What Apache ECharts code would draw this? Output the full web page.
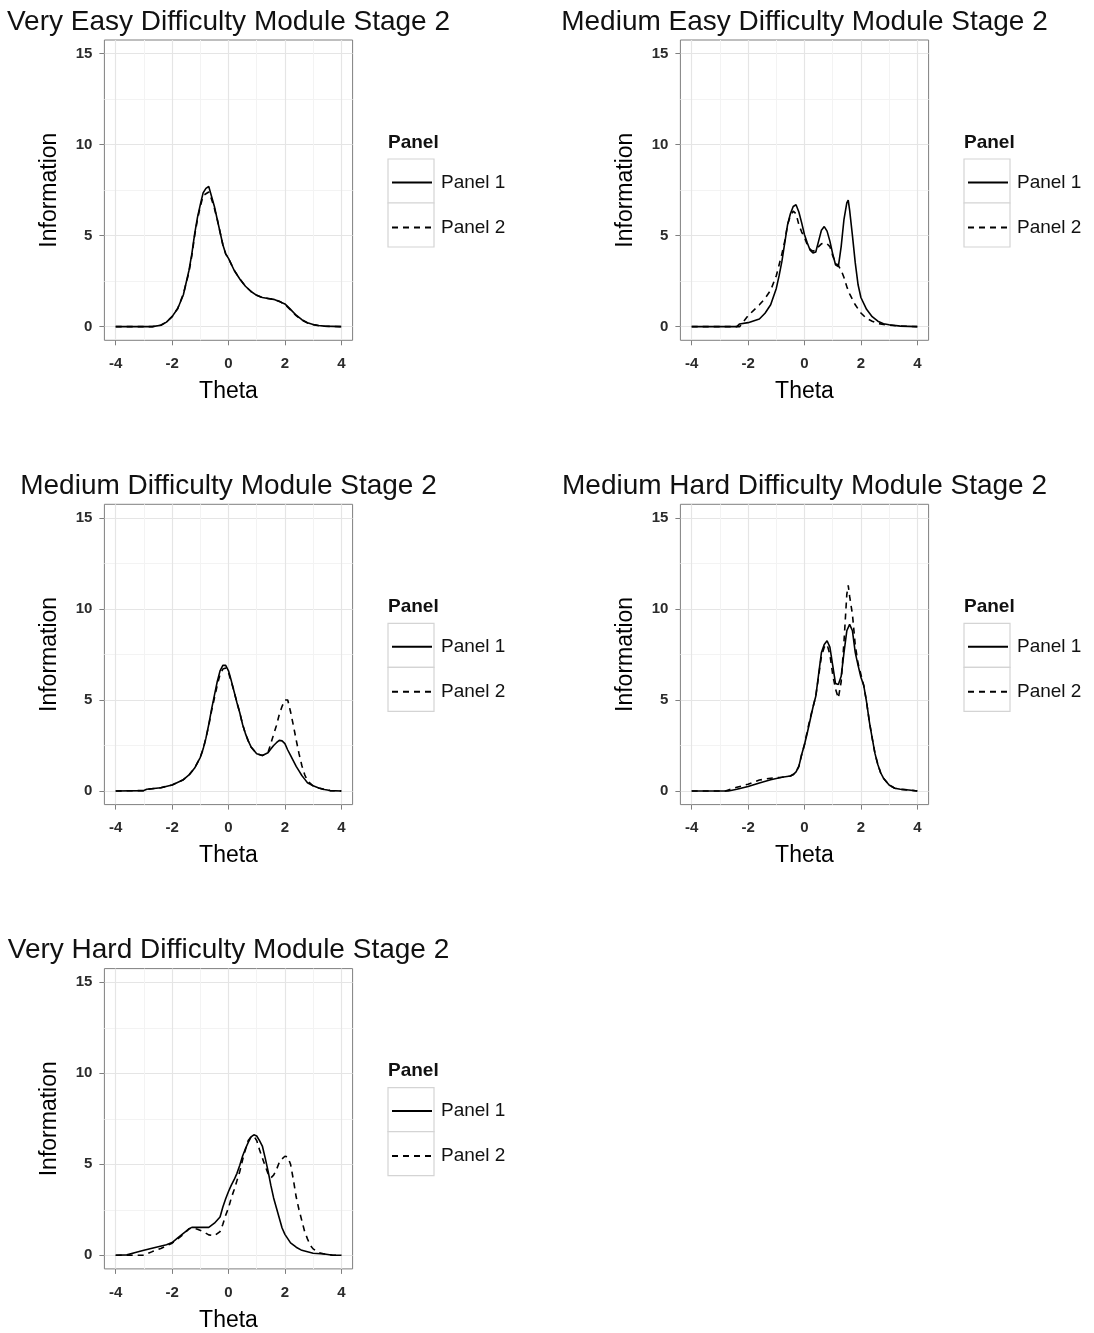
<!DOCTYPE html>
<html>
<head>
<meta charset="utf-8">
<script src="https://cdn.jsdelivr.net/npm/echarts@6/dist/echarts.min.js"></script>
<style>
    html, body { margin: 0; padding: 0; background: #fff; }
    #main { width: 1094px; height: 1333px; }
</style>
</head>
<body>
<div id="main"></div>
<script>
// titles of the five panels
const panelTitles = [
    'Very Easy Difficulty Module Stage 2',
    'Medium Easy Difficulty Module Stage 2',
    'Medium Difficulty Module Stage 2',
    'Medium Hard Difficulty Module Stage 2',
    'Very Hard Difficulty Module Stage 2'
];
const seriesNames = ['Panel 1', 'Panel 2'];

// tick labels
const xTicks = [-4, -2, 0, 2, 4];
const xMinorTicks = [-3, -1, 1, 3];
const yTicks = [0, 5, 10, 15];
const yMinorTicks = [2.5, 7.5, 12.5];

// Very Easy
const veryEasyTheta = [-4, -2.7, -2.4, -2.2, -2.0, -1.8, -1.6, -1.4, -1.3, -1.2, -1.1, -1.0, -0.9, -0.8, -0.7, -0.6, -0.5, -0.4, -0.3, -0.2, -0.1, 0, 0.2, 0.4, 0.6, 0.8, 1.0, 1.2, 1.4, 1.6, 1.8, 2.0, 2.2, 2.4, 2.6, 2.8, 3.0, 3.2, 3.4, 4];
const veryEasyPanel1 = [0, 0, 0.08, 0.25, 0.55, 1.0, 1.75, 3.1, 4.0, 5.1, 6.0, 6.7, 7.35, 7.6, 7.7, 7.15, 6.6, 5.9, 5.2, 4.5, 4.0, 3.75, 3.1, 2.62, 2.22, 1.93, 1.72, 1.6, 1.55, 1.5, 1.38, 1.25, 0.95, 0.63, 0.38, 0.22, 0.12, 0.06, 0.03, 0];
const veryEasyPanel2 = [0, 0, 0.08, 0.25, 0.55, 1.0, 1.8, 3.0, 3.9, 5.0, 5.9, 6.6, 7.2, 7.3, 7.4, 7.0, 6.5, 5.9, 5.2, 4.5, 4.0, 3.75, 3.1, 2.62, 2.22, 1.93, 1.72, 1.6, 1.55, 1.5, 1.4, 1.22, 0.92, 0.6, 0.36, 0.2, 0.11, 0.05, 0.02, 0];

// Medium Easy
const mediumEasyTheta1 = [-4, -2.4, -2.3, -2.0, -1.6, -1.4, -1.2, -1.0, -0.9, -0.8, -0.7, -0.6, -0.5, -0.4, -0.3, -0.2, -0.1, 0, 0.1, 0.2, 0.3, 0.4, 0.5, 0.6, 0.7, 0.8, 0.9, 1.0, 1.1, 1.2, 1.3, 1.4, 1.5, 1.55, 1.6, 1.7, 1.8, 1.9, 2.0, 2.2, 2.4, 2.6, 2.8, 3.0, 3.4, 4];
const mediumEasyPanel1 = [0, 0, 0.15, 0.22, 0.42, 0.74, 1.2, 2.1, 2.8, 3.6, 4.6, 5.6, 6.2, 6.6, 6.7, 6.3, 5.7, 5.05, 4.6, 4.2, 4.05, 4.1, 4.7, 5.3, 5.5, 5.25, 4.7, 4.0, 3.4, 3.3, 4.4, 5.9, 6.8, 6.95, 6.4, 5.0, 3.5, 2.3, 1.6, 0.95, 0.55, 0.3, 0.16, 0.1, 0.03, 0];
const mediumEasyTheta2 = [-4, -2.3, -2.2, -2.0, -1.6, -1.4, -1.2, -1.0, -0.9, -0.8, -0.7, -0.6, -0.5, -0.4, -0.3, -0.2, -0.1, 0, 0.1, 0.2, 0.3, 0.4, 0.5, 0.6, 0.7, 0.8, 0.9, 1.0, 1.1, 1.2, 1.3, 1.4, 1.5, 1.6, 1.7, 1.8, 2.0, 2.2, 2.4, 2.6, 2.8, 3.0, 3.4, 4];
const mediumEasyPanel2 = [0, 0, 0.2, 0.6, 1.2, 1.55, 2.0, 2.8, 3.4, 4.0, 4.7, 5.6, 6.1, 6.35, 6.2, 5.6, 5.2, 4.9, 4.5, 4.25, 4.15, 4.2, 4.4, 4.55, 4.6, 4.55, 4.4, 3.9, 3.5, 3.35, 3.1, 2.7, 2.2, 1.8, 1.5, 1.2, 0.75, 0.45, 0.3, 0.18, 0.12, 0.08, 0.03, 0];

// Medium
const mediumTheta = [-4, -3.0, -2.9, -2.4, -2.0, -1.6, -1.4, -1.2, -1.0, -0.9, -0.8, -0.7, -0.6, -0.5, -0.4, -0.3, -0.2, -0.1, 0, 0.1, 0.2, 0.3, 0.4, 0.5, 0.6, 0.7, 0.8, 1.0, 1.2, 1.4, 1.5, 1.6, 1.7, 1.8, 1.9, 2.0, 2.1, 2.2, 2.3, 2.4, 2.5, 2.6, 2.7, 2.8, 3.0, 3.2, 3.4, 3.6, 4];
const mediumPanel1 = [0, 0.02, 0.09, 0.18, 0.33, 0.62, 0.88, 1.26, 1.85, 2.3, 2.9, 3.65, 4.5, 5.25, 6.0, 6.6, 6.9, 6.9, 6.6, 6.05, 5.45, 4.85, 4.3, 3.65, 3.15, 2.75, 2.42, 2.05, 1.95, 2.1, 2.3, 2.5, 2.65, 2.78, 2.75, 2.6, 2.25, 1.95, 1.65, 1.35, 1.1, 0.85, 0.65, 0.45, 0.28, 0.16, 0.08, 0.02, 0];
const mediumPanel2 = [0, 0.02, 0.09, 0.18, 0.33, 0.62, 0.88, 1.26, 1.85, 2.3, 2.9, 3.6, 4.4, 5.1, 5.8, 6.4, 6.7, 6.75, 6.5, 6.0, 5.45, 4.85, 4.3, 3.65, 3.15, 2.75, 2.42, 2.05, 1.95, 2.1, 2.6, 3.1, 3.6, 4.2, 4.65, 5.0, 5.0, 4.35, 3.6, 2.8, 2.05, 1.4, 0.9, 0.55, 0.28, 0.16, 0.08, 0.02, 0];

// Medium Hard
const mediumHardTheta1 = [-4, -2.7, -2.4, -2.0, -1.6, -1.2, -0.8, -0.5, -0.4, -0.3, -0.2, -0.1, 0, 0.1, 0.2, 0.3, 0.4, 0.5, 0.6, 0.7, 0.8, 0.9, 1.0, 1.1, 1.2, 1.3, 1.4, 1.5, 1.6, 1.7, 1.8, 1.9, 2.0, 2.1, 2.2, 2.3, 2.4, 2.5, 2.6, 2.7, 2.8, 3.0, 3.2, 3.4, 3.7, 4];
const mediumHardPanel1 = [0, 0, 0.09, 0.24, 0.44, 0.62, 0.75, 0.82, 0.9, 1.05, 1.35, 2.0, 2.55, 3.2, 3.9, 4.6, 5.2, 6.4, 7.6, 8.05, 8.25, 7.9, 6.9, 5.9, 5.85, 6.3, 7.6, 8.8, 9.15, 8.8, 7.6, 6.9, 6.25, 5.8, 4.9, 3.8, 2.9, 2.05, 1.45, 1.0, 0.7, 0.33, 0.15, 0.09, 0.05, 0];
const mediumHardTheta2 = [-4, -2.8, -2.6, -2.4, -2.0, -1.6, -1.2, -0.8, -0.5, -0.4, -0.3, -0.2, -0.1, 0, 0.1, 0.2, 0.3, 0.4, 0.5, 0.6, 0.7, 0.8, 0.9, 1.0, 1.1, 1.2, 1.3, 1.4, 1.5, 1.55, 1.6, 1.7, 1.8, 1.9, 2.0, 2.1, 2.2, 2.3, 2.4, 2.5, 2.6, 2.7, 2.8, 3.0, 3.2, 3.4, 3.7, 4];
const mediumHardPanel2 = [0, 0, 0.1, 0.2, 0.37, 0.6, 0.7, 0.75, 0.82, 0.9, 1.05, 1.35, 2.0, 2.55, 3.3, 4.0, 4.6, 5.2, 6.3, 7.4, 7.9, 8.05, 7.5, 6.4, 5.6, 5.1, 6.0, 8.2, 10.8, 11.3, 10.7, 9.7, 8.0, 7.0, 6.4, 5.8, 4.9, 3.8, 2.9, 2.05, 1.45, 1.0, 0.7, 0.33, 0.15, 0.09, 0.05, 0];

// Very Hard
const veryHardTheta1 = [-4, -3.6, -3.3, -3.0, -2.6, -2.2, -2.0, -1.8, -1.6, -1.4, -1.3, -1.0, -0.7, -0.5, -0.3, -0.2, -0.1, 0, 0.1, 0.2, 0.3, 0.4, 0.5, 0.6, 0.7, 0.8, 0.9, 1.0, 1.1, 1.2, 1.3, 1.4, 1.5, 1.6, 1.7, 1.8, 1.9, 2.0, 2.2, 2.4, 2.6, 3.0, 3.4, 3.7, 4];
const veryHardPanel1 = [0, 0.02, 0.15, 0.27, 0.43, 0.58, 0.7, 0.95, 1.2, 1.45, 1.53, 1.53, 1.53, 1.76, 2.1, 2.65, 3.1, 3.5, 3.85, 4.15, 4.5, 4.95, 5.45, 5.85, 6.2, 6.5, 6.62, 6.55, 6.3, 6.0, 5.35, 4.65, 3.85, 3.15, 2.6, 2.05, 1.5, 1.15, 0.68, 0.44, 0.27, 0.11, 0.07, 0, 0];
const veryHardTheta2 = [-4, -3.0, -2.7, -2.4, -2.0, -1.8, -1.6, -1.4, -1.3, -1.1, -0.9, -0.7, -0.5, -0.3, -0.2, -0.1, 0, 0.1, 0.2, 0.3, 0.4, 0.5, 0.6, 0.7, 0.8, 0.9, 1.0, 1.1, 1.2, 1.3, 1.4, 1.5, 1.6, 1.7, 1.8, 1.9, 2.0, 2.1, 2.2, 2.3, 2.4, 2.5, 2.6, 2.7, 2.8, 2.9, 3.0, 3.2, 3.4, 3.7, 4];
const veryHardPanel2 = [0, 0, 0.2, 0.37, 0.66, 0.9, 1.15, 1.45, 1.5, 1.43, 1.3, 1.12, 1.07, 1.3, 1.7, 2.2, 2.6, 3.15, 3.6, 4.1, 4.6, 5.25, 5.8, 6.3, 6.5, 6.55, 6.3, 5.8, 5.35, 4.9, 4.5, 4.25, 4.4, 4.7, 5.1, 5.3, 5.44, 5.4, 5.0, 4.15, 3.2, 2.5, 1.9, 1.3, 0.9, 0.55, 0.35, 0.15, 0.07, 0, 0];

const panelData = [
    [[veryEasyTheta, veryEasyPanel1], [veryEasyTheta, veryEasyPanel2]],
    [[mediumEasyTheta1, mediumEasyPanel1], [mediumEasyTheta2, mediumEasyPanel2]],
    [[mediumTheta, mediumPanel1], [mediumTheta, mediumPanel2]],
    [[mediumHardTheta1, mediumHardPanel1], [mediumHardTheta2, mediumHardPanel2]],
    [[veryHardTheta1, veryHardPanel1], [veryHardTheta2, veryHardPanel2]]
];

// page layout (pixels)
const colLeft = [104.4, 680.4];
const rowTop = [40, 504.3, 968.6];
const plotW = 248.2;
const plotH = 300.3;
const font = 'Liberation Sans, Arial, sans-serif';

let chart = echarts.init(document.getElementById('main'), null, {renderer: 'canvas'});

let grids = [], xAxes = [], yAxes = [], series = [], titles = [], legends = [], graphics = [];

panelTitles.forEach(function (name, i) {
    let left = colLeft[i % 2];
    let top = rowTop[Math.floor(i / 2)];

    grids.push({
        left: left, top: top, width: plotW, height: plotH,
        show: true, borderColor: '#7f7f7f', borderWidth: 1, backgroundColor: '#fff'
    });

    // minor grid lines
    xAxes.push({
        gridIndex: i, type: 'value', position: 'bottom', min: -4.4, max: 4.4,
        axisLine: {show: false, onZero: false}, axisLabel: {show: false},
        axisTick: {show: false, customValues: xMinorTicks},
        splitLine: {show: true, lineStyle: {color: '#f3f3f3', width: 1}}
    });
    yAxes.push({
        gridIndex: i, type: 'value', position: 'left', min: -0.75, max: 15.75,
        axisLine: {show: false, onZero: false}, axisLabel: {show: false},
        axisTick: {show: false, customValues: yMinorTicks},
        splitLine: {show: true, lineStyle: {color: '#f3f3f3', width: 1}}
    });
    // main axes
    xAxes.push({
        gridIndex: i, type: 'value', position: 'bottom', min: -4.4, max: 4.4,
        axisLine: {show: false, onZero: false},
        axisTick: {show: true, customValues: xTicks, length: 5, lineStyle: {color: '#7f7f7f'}},
        axisLabel: {customValues: xTicks, margin: 16, fontSize: 15, fontWeight: 'bold', color: '#2b2b2b', fontFamily: font},
        splitLine: {show: true, lineStyle: {color: '#e5e5e5', width: 1.2}},
        name: 'Theta', nameLocation: 'middle', nameGap: 40,
        nameTextStyle: {fontSize: 23, color: '#000', fontFamily: font}
    });
    yAxes.push({
        gridIndex: i, type: 'value', position: 'left', min: -0.75, max: 15.75,
        axisLine: {show: false, onZero: false},
        axisTick: {show: true, customValues: yTicks, length: 5, lineStyle: {color: '#7f7f7f'}},
        axisLabel: {customValues: yTicks, margin: 12, fontSize: 15, fontWeight: 'bold', color: '#2b2b2b', fontFamily: font},
        splitLine: {show: true, lineStyle: {color: '#e5e5e5', width: 1.2}},
        name: 'Information', nameLocation: 'middle', nameGap: 43,
        nameTextStyle: {fontSize: 23, color: '#000', fontFamily: font}
    });

    panelData[i].forEach(function (pair, k) {
        series.push({
            name: seriesNames[k],
            type: 'line',
            xAxisIndex: 2 * i + 1,
            yAxisIndex: 2 * i + 1,
            data: pair[0].map(function (t, j) { return [t, pair[1][j]]; }),
            symbol: 'none',
            showSymbol: false,
            silent: true,
            animation: false,
            itemStyle: {color: '#000'},
            lineStyle: {color: '#000', width: 1.6, type: k === 0 ? 'solid' : [6, 5]}
        });
    });

    // panel title
    titles.push({
        text: name, left: left + plotW / 2, top: top - 32, textAlign: 'center', padding: 0,
        textStyle: {fontSize: 28, fontWeight: 'normal', color: '#111', fontFamily: font}
    });
    // legend title
    titles.push({
        text: 'Panel', left: left + 283.6, top: top + 93, padding: 0,
        textStyle: {fontSize: 19, fontWeight: 'bold', color: '#111', fontFamily: font}
    });

    legends.push({
        data: seriesNames, orient: 'vertical', selectedMode: false, padding: 0,
        left: left + 286.6, top: top + 132.5,
        itemWidth: 40, itemHeight: 20, itemGap: 25,
        itemStyle: {opacity: 0},
        textStyle: {fontSize: 19, color: '#111', fontFamily: font, lineHeight: 20, padding: [0, 0, 0, 4]}
    });

    // legend key boxes
    [0, 1].forEach(function (k) {
        graphics.push({
            type: 'rect', silent: true, z: -1,
            shape: {x: left + 283.6, y: top + 119 + 44 * k, width: 46, height: 44},
            style: {fill: '#fff', stroke: '#d4d4d4', lineWidth: 1.2}
        });
    });
});

let option = {
    backgroundColor: '#fff',
    animation: false,
    title: titles,
    legend: legends,
    grid: grids,
    xAxis: xAxes,
    yAxis: yAxes,
    series: series,
    graphic: graphics
};

chart.setOption(option);
</script>
</body>
</html>
